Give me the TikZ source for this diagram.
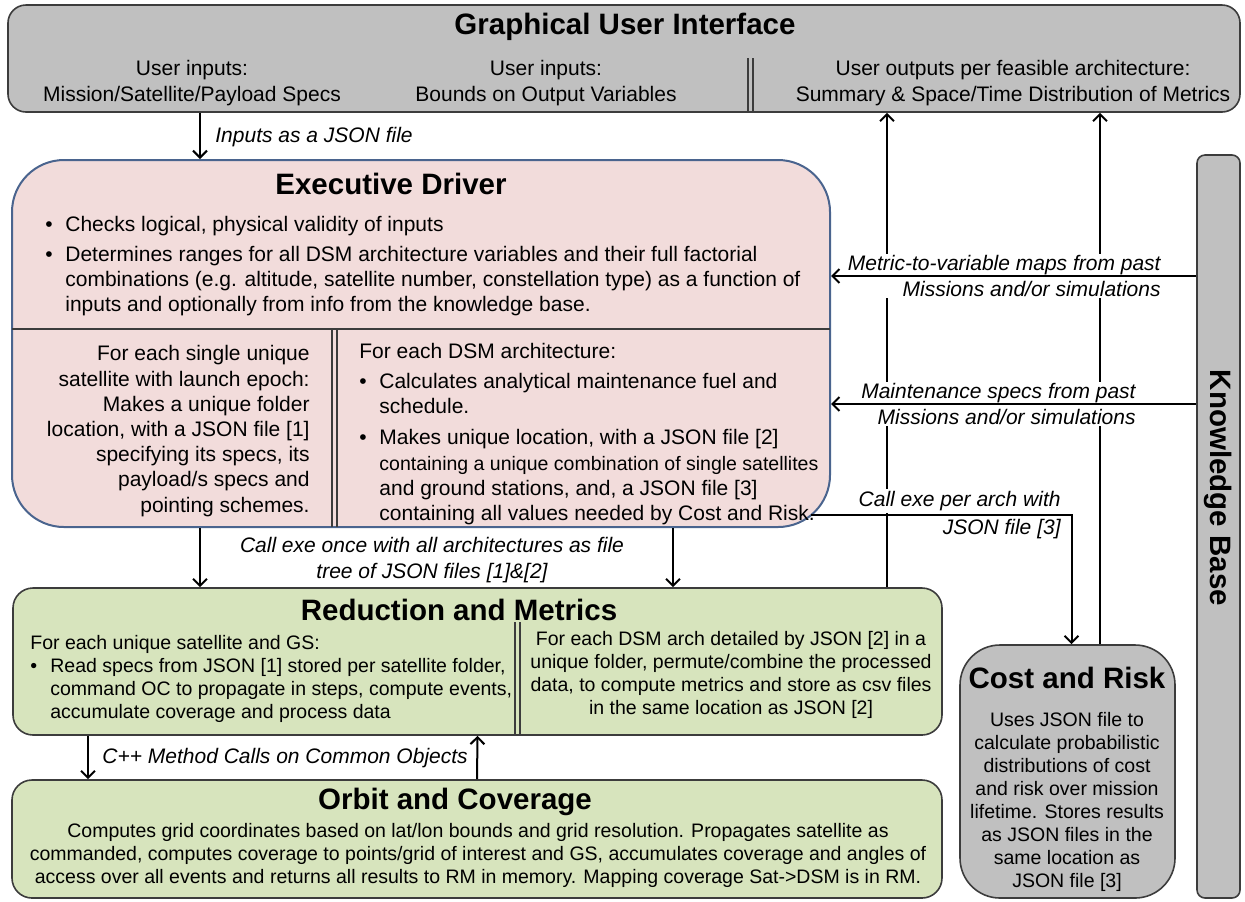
\documentclass[tikz,border=0pt]{standalone}
\usepackage{fontspec}
\setmainfont{Liberation Sans}
\usepackage{tikz}
\usetikzlibrary{arrows.meta, positioning}
\definecolor{guigray}{RGB}{192,192,192}
\definecolor{drvpink}{RGB}{242,220,219}
\definecolor{drvblue}{RGB}{74,100,142}
\definecolor{rmgreen}{RGB}{215,228,189}
\definecolor{edgegray}{RGB}{60,60,60}
\newcommand{\boxtitle}{\fontsize{14.75}{17}\selectfont\bfseries}
\newcommand{\boxtext}{\fontsize{10.5}{12.6}\selectfont}
\newcommand{\boxsmall}{\fontsize{9.75}{11.5}\selectfont}
\newcommand{\bul}{\makebox[10pt][l]{\textbullet}}
\newcommand{\ind}{\hspace*{10pt}}

\begin{document}
\begin{tikzpicture}[
    x=0.5pt, y=-0.5pt,
    box/.style={draw=edgegray, line width=0.8pt, inner sep=0pt},
    gui box/.style={box, fill=guigray, rounded corners=9pt},
    driver box/.style={box, draw=drvblue, line width=1pt, fill=drvpink, rounded corners=26pt},
    green box/.style={box, fill=rmgreen, rounded corners=10pt},
    cr box/.style={box, fill=guigray, rounded corners=20pt},
    kb box/.style={box, fill=guigray, rounded corners=4pt},
    box title/.style={font=\boxtitle, inner sep=0pt},
    box text/.style={font=\boxtext, inner sep=0pt},
    small text/.style={font=\boxsmall, inner sep=0pt},
    flow label/.style={font=\boxtext\itshape, inner sep=1pt},
    cover label/.style={flow label, fill=white, align=right},
    arr/.style={-{Straight Barb[length=3.5pt,width=7pt]}, line width=1pt},
    divider/.style={line width=0.75pt, draw=edgegray}
]
    \useasboundingbox (0,0) rectangle (1245,901);

    % Boxes
    \node[gui box, minimum width=616pt, minimum height=53.5pt] (gui) at (624,58.5) {};
    \node[driver box, minimum width=409pt, minimum height=183.5pt] (drv) at (421,343.5) {};
    \node[green box, minimum width=464.5pt, minimum height=73.5pt] (rm) at (477.5,661.5) {};
    \node[green box, minimum width=465pt, minimum height=59pt] (oc) at (477,839) {};
    \node[cr box, minimum width=107.5pt, minimum height=126.5pt] (cr) at (1067.5,771.5) {};
    \node[kb box, minimum width=21.5pt, minimum height=371.5pt] (kb) at (1218.5,526.5) {};

    % Dividers
    \draw[divider] (12,329) -- (830,329);
    \foreach \dx in {332,337} \draw[divider] (\dx,329) -- (\dx,527);
    \foreach \dx in {748,753} \draw[divider] (\dx,58) -- (\dx,112);
    \foreach \dx in {515,520} \draw[divider] (\dx,622) -- (\dx,735);

    % Graphical User Interface
    \node[box title] (guititle) at (625,27) {Graphical User Interface};
    \node[box text, align=center] (guispecs) at (192,83) {User inputs:\\ Mission/Satellite/Payload Specs};
    \node[box text, align=center] (guibounds) at (546,83) {User inputs:\\ Bounds on Output Variables};
    \node[box text, align=center] (guiout) at (1013,83) {User outputs per feasible architecture:\\ Summary \& Space/Time Distribution of Metrics};

    % Executive Driver
    \node[box title] (drvtitle) at (391,184) {Executive Driver};
    \node[box text, align=left, anchor=west] (drvchecks) at (45,266) {\bul Checks logical, physical validity of inputs\\[2.5pt]
        \bul Determines ranges for all DSM architecture variables and their full factorial\\
        \ind combinations (e.g. altitude, satellite number, constellation type) as a function of\\
        \ind inputs and optionally from info from the knowledge base.};
    \node[box text, align=right, anchor=east] (drvsat) at (310,431) {For each single unique\\ satellite with launch epoch:\\ Makes a unique folder\\ location, with a JSON file [1]\\ specifying its specs, its\\ payload/s specs and\\ pointing schemes.};
    \node[box text, align=left, anchor=west] (drvarch) at (359,434) {For each DSM architecture:\\[2.5pt]
        \bul Calculates analytical maintenance fuel and\\
        \ind schedule.\\[3pt]
        \bul Makes unique location, with a JSON file [2]\\
        \boxsmall\ind containing a unique combination of single satellites\\
        \ind and ground stations, and, a JSON file [3]\\
        \ind containing all values needed by Cost and Risk.};

    % Reduction and Metrics
    \node[box title] (rmtitle) at (459,610) {Reduction and Metrics};
    \node[small text, align=left, anchor=west] (rmsat) at (30,679) {For each unique satellite and GS:\\
        \bul Read specs from JSON [1] stored per satellite folder,\\
        \ind command OC to propagate in steps, compute events,\\
        \ind accumulate coverage and process data};
    \node[small text, align=center] (rmarch) at (731,675) {For each DSM arch detailed by JSON [2] in a\\ unique folder, permute/combine the processed\\ data, to compute metrics and store as csv files\\ in the same location as JSON [2]};

    % Orbit and Coverage
    \node[box title] (octitle) at (455,802) {Orbit and Coverage};
    \node[small text, align=center] (octext) at (478,855) {Computes grid coordinates based on lat/lon bounds and grid resolution. Propagates satellite as\\ commanded, computes coverage to points/grid of interest and GS, accumulates coverage and angles of\\ access over all events and returns all results to RM in memory. Mapping coverage Sat->DSM is in RM.};

    % Cost and Risk
    \node[box title] (crtitle) at (1067,678) {Cost and Risk};
    \node[small text, align=center] (crtext) at (1067,802) {Uses JSON file to\\ calculate probabilistic\\ distributions of cost\\ and risk over mission\\ lifetime. Stores results\\ as JSON files in the\\ same location as\\ JSON file [3]};

    % Knowledge Base
    \node[box title, rotate=-90] (kbtitle) at (1218,488) {Knowledge Base};

    % Connector columns
    \coordinate (inx) at (200,0);
    \coordinate (archx) at (673,0);
    \coordinate (ocx) at (88,0);
    \coordinate (outa) at (887,0);
    \coordinate (outb) at (1100,0);
    \coordinate (drvout) at (811,515);

    % Vertical flows
    \draw[arr] (inx |- gui.south) -- (inx |- drv.north);
    \draw[arr] (inx |- drv.south) -- (inx |- rm.north);
    \draw[arr] (archx |- drv.south) -- (archx |- rm.north);
    \draw[arr] (ocx |- rm.south) -- (ocx |- oc.north);
    \draw[arr] (oc.north) -- (rm.south);
    \draw[arr] (outa |- rm.north) -- (outa |- gui.south);
    \draw[arr] (outb |- cr.north) -- (outb |- gui.south);

    % Labels
    \node[flow label, anchor=west] (inlbl) at (213,137) {Inputs as a JSON file};
    \node[flow label, align=center] (calllbl) at (432,560) {Call exe once with all architectures as file\\ tree of JSON files [1]\&[2]};
    \node[flow label, anchor=west] (cpplbl) at (100,758) {C++ Method Calls on Common Objects};
    \node[cover label, anchor=east] (metriclbl) at (1163,276) {Metric-to-variable maps from past\\ Missions and/or simulations};
    \node[cover label, anchor=east] (maintlbl) at (1138,404) {Maintenance specs from past\\ Missions and/or simulations};
    \node[cover label, anchor=south east] (crlbla) at (1063,513) {Call exe per arch with};
    \node[cover label, anchor=north east] (crlblb) at (1063,517) {JSON file [3]};

    % Knowledge base feeds and cost call
    \draw[arr] (kb.west |- metriclbl) -- (drv.east |- metriclbl);
    \draw[arr] (kb.west |- maintlbl) -- (drv.east |- maintlbl);
    \draw[arr] (drvout) -| ([xshift=2pt]cr.north);
\end{tikzpicture}
\end{document}
